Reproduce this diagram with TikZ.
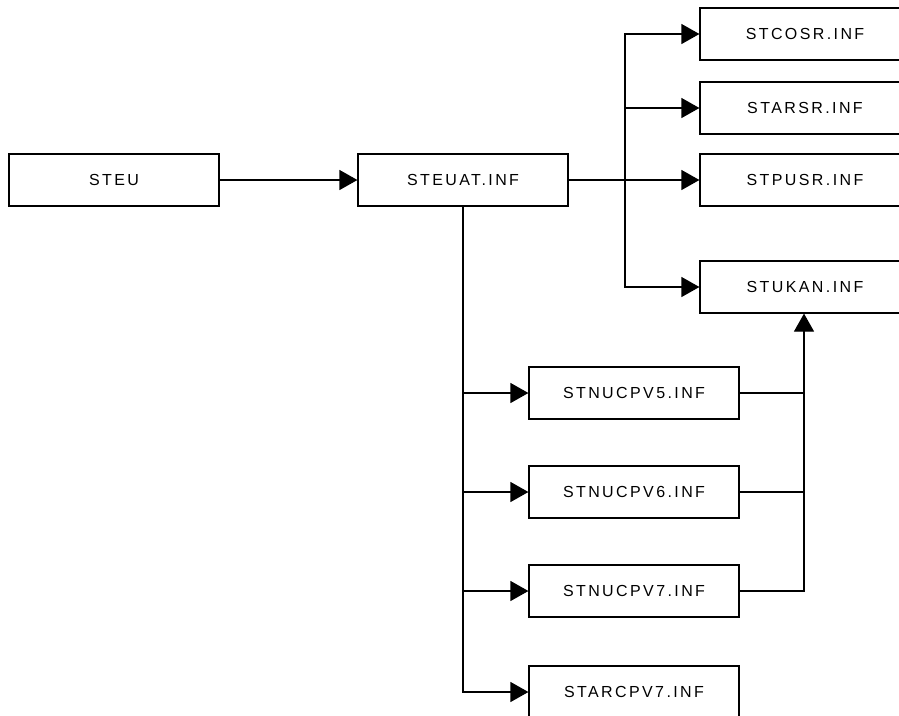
\documentclass[tikz,border=0pt]{standalone}
\usepackage{fontspec}
\setmainfont{Liberation Sans}
\newfontfamily\boxfont[LetterSpace=15]{Liberation Sans}
\usetikzlibrary{arrows.meta}
\begin{document}
\begin{tikzpicture}[x=1pt,y=-1pt,
  box/.style={draw=black,line width=1.2pt,fill=white,minimum width=210pt,minimum height=52pt,inner sep=0pt,font=\boxfont\fontsize{16pt}{19pt}\selectfont,anchor=center},
  conn/.style={draw=black,line width=1.2pt},
  arr/.style={conn,-{Triangle[length=18pt,width=20pt]}}]
\useasboundingbox (0,0) rectangle (899,715);
\clip (0,0) rectangle (899,715);
\fill[white] (0,0) rectangle (899,715);
\node[box] (steu) at (114,180) {STEU};
\node[box] (steuat) at (463,180) {STEUAT.INF};
\node[box] (stcosr) at (805,34) {STCOSR.INF};
\node[box] (starsr) at (805,108) {STARSR.INF};
\node[box] (stpusr) at (805,180) {STPUSR.INF};
\node[box] (stukan) at (805,287) {STUKAN.INF};
\node[box] (nuc5) at (634,393) {STNUCPV5.INF};
\node[box] (nuc6) at (634,492) {STNUCPV6.INF};
\node[box] (nuc7) at (634,591) {STNUCPV7.INF};
\node[box] (arc7) at (634,692) {STARCPV7.INF};
\coordinate (bus) at (625,180);
\coordinate (rbus) at (804,393);
\draw[arr] (steu.east) -- (steuat.west);
\draw[arr] (steuat.east) -- (stpusr.west);
\draw[arr] (bus) |- (stcosr.west);
\draw[arr] (bus) |- (starsr.west);
\draw[arr] (bus) |- (stukan.west);
\draw[arr] (steuat.south) |- (nuc5.west);
\draw[arr] (steuat.south) |- (nuc6.west);
\draw[arr] (steuat.south) |- (nuc7.west);
\draw[arr] (steuat.south) |- (arc7.west);
\draw[conn] (nuc5.east) -- (rbus);
\draw[conn] (nuc6.east) -| (rbus);
\draw[conn] (nuc7.east) -| (rbus);
\draw[arr] (rbus) -- (rbus |- stukan.south);
\end{tikzpicture}
\end{document}
